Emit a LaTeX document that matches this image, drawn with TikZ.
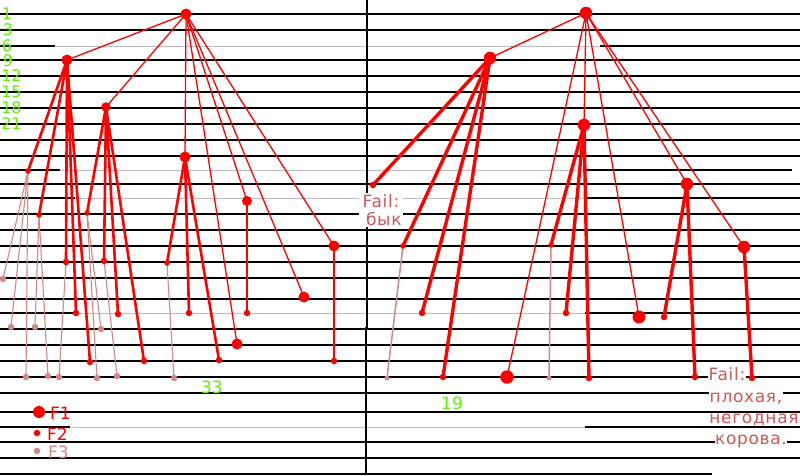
\documentclass[tikz,border=0pt]{standalone}
\usepackage{fontspec}
\setmainfont{DejaVu Sans}
\definecolor{grn}{RGB}{100,238,0}
\definecolor{pinkc}{RGB}{212,135,135}
\definecolor{failc}{RGB}{205,88,88}
\definecolor{segc}{RGB}{190,190,190}
\pgfdeclarelayer{bg}
\pgfsetlayers{bg,main}
\begin{document}
\begin{tikzpicture}[x=1pt,y=-1pt,
  hl/.style={black,line width=1.4},
  hg/.style={segc,line width=1},
  big/.style={circle,fill=red,inner sep=0,minimum size=11},
  bigr/.style={circle,fill=red,inner sep=0,minimum size=12.5},
  med/.style={circle,fill=red,inner sep=0,minimum size=6.5},
  pk/.style={circle,fill=pinkc,inner sep=0,minimum size=6.5},
  ethin/.style={red,line width=1.3},
  ethick/.style={red,line width=2.6},
  ethickr/.style={red,line width=3.4},
  epink/.style={pinkc,line width=1.1},
  num/.style={text=grn,font=\fontsize{17}{20}\selectfont,inner sep=0},
  numl/.style={text=grn,font=\fontsize{16}{18}\selectfont,inner sep=0},
  leg/.style={font=\fontsize{17}{20}\selectfont,inner sep=0,anchor=west},
  fail/.style={text=failc,fill=white,inner sep=0.5,font=\fontsize{17}{20}\selectfont\addfontfeature{LetterSpace=4}}
]
\useasboundingbox (0,0) rectangle (800,475);

% ---------- left tree nodes ----------
\node[big] (a) at (186,14) {};
\node[big] (b) at (67,60) {};
\node[big,minimum size=9.5] (c) at (106,107) {};
\node[big] (d) at (185,157) {};
\node[big,minimum size=10] (e) at (247,201) {};
\node[big] (f) at (304,297) {};
\node[big] (g) at (334,246) {};
\node[big] (h) at (237,344) {};
\node[med,minimum size=5.5] (b1) at (28,171) {};
\node[med,minimum size=5.5] (b2) at (39,215) {};
\node[med] (b3) at (66,262) {};
\node[med] (b4) at (76,313) {};
\node[med] (b5) at (90,362) {};
\node[med,minimum size=5.5] (c1) at (87,213) {};
\node[med] (c2) at (104,261) {};
\node[med] (c3) at (118,314) {};
\node[med] (c4) at (144,361) {};
\node[med,minimum size=5.5] (d1) at (167,263) {};
\node[med] (d2) at (189,313) {};
\node[med] (d3) at (219,360) {};
\node[med] (e1) at (247,313) {};
\node[med] (g1) at (334,361) {};
\node[pk] (p1) at (3,279) {};
\node[pk] (p2) at (11,327) {};
\node[pk] (p3) at (26,377) {};
\node[pk] (p4) at (35,327) {};
\node[pk] (p5) at (48,376) {};
\node[pk] (p6) at (59,377) {};
\node[pk] (p7) at (101,329) {};
\node[pk] (p8) at (97,378) {};
\node[pk] (p9) at (117,376) {};
\node[pk] (p10) at (174,378) {};

% ---------- right tree nodes ----------
\node[bigr] (r) at (586,13) {};
\node[bigr] (rh) at (490,58) {};
\node[bigr] (ri) at (584,125) {};
\node[bigr] (rj) at (687,184) {};
\node[bigr] (rk) at (744,247) {};
\node[bigr,minimum size=13.5] (rl) at (507,377) {};
\node[bigr,minimum size=13] (rm) at (639,317) {};
\node[med] (h1) at (373,185) {};
\node[med,minimum size=5.5] (h2) at (403,246) {};
\node[med] (h3) at (422,313) {};
\node[med] (h4) at (443,377) {};
\node[med,minimum size=5.5] (i1) at (551,245) {};
\node[med] (i2) at (566,313) {};
\node[med] (i3) at (589,378) {};
\node[med] (j1) at (664,317) {};
\node[med] (j2) at (695,377) {};
\node[med] (k1) at (752,378) {};
\node[pk,minimum size=5] (q1) at (387,378) {};
\node[pk,minimum size=5] (q2) at (549,378) {};

\begin{pgfonlayer}{bg}
\fill[white] (0,0) rectangle (800,475);
% horizontal lines
\foreach \y in {14,30,60,76,92,108,124,140,156,184,214,230,246,262,278,299,329,345,361,377,393,412,442,458}
  \draw[hl] (0,\y) -- (800,\y);
\draw[hl] (0,474) -- (712,474);
\draw[hl] (0,46) -- (55,46);  \draw[hg] (55,46) -- (600,46);  \draw[hl] (600,46) -- (800,46);
\draw[hl] (0,170) -- (60,170); \draw[hg] (60,170) -- (585,170); \draw[hl] (585,170) -- (792,170);
\draw[hl] (0,198) -- (75,198); \draw[hg] (75,198) -- (585,198); \draw[hl] (585,198) -- (800,198);
\draw[hl] (0,313) -- (78,313); \draw[hg] (78,313) -- (585,313); \draw[hl] (585,313) -- (800,313);
\draw[hl] (0,427) -- (70,427); \draw[hg] (70,427) -- (585,427); \draw[hl] (585,427) -- (800,427);
% vertical divider
\draw[hl] (367,0) -- (367,328) -- (366,328) -- (366,475);
% connectors
\foreach \s/\t in {a/b,a/c,a/d,a/e,a/f,a/g,a/h}
  \draw[ethin] (\s.center) -- (\t.center);
\foreach \s/\t in {b/b1,b/b2,b/b3,b/b4,b/b5,c/c1,c/c2,c/c3,c/c4,d/d1,d/d2,d/d3,e/e1}
  \draw[ethick] (\s.center) -- (\t.center);
\draw[red,line width=1.8] (g.center) -- (g1.center);
\foreach \s/\t in {b1/p1,b1/p2,b1/p3,b2/p4,b2/p5,b3/p6,c1/p7,c1/p8,c2/p9,d1/p10}
  \draw[epink] (\s.center) -- (\t.center);
\foreach \s/\t in {r/rh,r/ri,r/rj,r/rk,r/rl,r/rm}
  \draw[ethin] (\s.center) -- (\t.center);
\foreach \s/\t in {rh/h1,rh/h2,rh/h3,rh/h4,ri/i1,ri/i2,ri/i3,rj/j1,rj/j2,rk/k1}
  \draw[ethickr] (\s.center) -- (\t.center);
\draw[epink,line width=1.5] (h2.center) -- (q1.center);
\draw[epink,line width=1.5] (i1.center) -- (q2.center);
\end{pgfonlayer}

% ---------- labels ----------
\node[numl] (n1) at (7,14) {1};
\node[numl] (n3) at (8,30) {3};
\node[numl] (n6) at (7,45.5) {6};
\node[numl] (n9) at (8,60.5) {9};
\node[numl] (n12) at (11.5,76) {12};
\node[numl] (n15) at (11.5,92) {15};
\node[numl] (n18) at (11.5,108) {18};
\node[numl] (n21) at (11.5,124) {21};
\node[num] (n33) at (212,387) {33};
\node[num] (n19) at (452,403) {19};

\node[fail,align=center,inner sep=1] (fb) at (381,210) {Fail:\\[-2pt]\,\,бык};

\node[fail] (fk1) at (727,374.5) {Fail:};
\node[fail] (fk2) at (746,398.5) {плохая,};
\node[fail] (fk3) at (754,420) {негодная};
\node[fail] (fk4) at (751,441.5) {корова.};

% legend
\node[big,minimum size=12] (l1) at (39,412) {};
\node[leg,text=red] (t1) at (50,413) {F1};
\node[med] (l2) at (37,433) {};
\node[leg,text=red] (t2) at (47,434) {F2};
\node[pk] (l3) at (37,451) {};
\node[leg,text=pinkc] (t3) at (48,452) {F3};
\end{tikzpicture}
\end{document}
